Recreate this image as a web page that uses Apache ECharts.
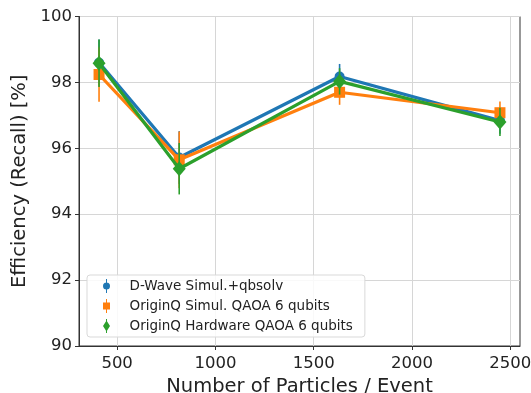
<!DOCTYPE html>
<html>
<head>
<meta charset="utf-8">
<script src="https://cdn.jsdelivr.net/npm/echarts@6/dist/echarts.min.js"></script>
<style>html,body{margin:0;padding:0;background:#fff}#c{width:531px;height:393px}</style>
</head>
<body>
<div id="c"></div>
<script>
// ---- data ----
const particles = [408, 816, 1632, 2448];
const dwave = [98.60, 95.72, 98.18, 96.84];
const dwaveErr = [0.70, 0.80, 0.38, 0.40];
const simul = [98.24, 95.65, 97.70, 97.08];
const simulErr = [0.83, 0.86, 0.38, 0.34];
const hardware = [98.58, 95.38, 98.03, 96.80];
const hardwareErr = [0.72, 0.78, 0.40, 0.43];
const xTicks = [500, 1000, 1500, 2000, 2500];
const names = ['D-Wave Simul.+qbsolv', 'OriginQ Simul. QAOA 6 qubits', 'OriginQ Hardware QAOA 6 qubits'];

const colors = ['#1f77b4', '#ff7f0e', '#2ca02c'];
const symbols = ['circle', 'rect', 'diamond'];
const symbolSizes = [10, 11, [13, 15]];
const legendIcons = [
  'path://M4.3,0 L5.7,0 L5.7,20 L4.3,20 Z M5,5 A5,5 0 1,1 5,15 A5,5 0 1,1 5,5 Z',
  'path://M4.3,0 L5.7,0 L5.7,20 L4.3,20 Z M0,5 L10,5 L10,15 L0,15 Z',
  'path://M4.3,0 L5.7,0 L5.7,20 L4.3,20 Z M5,2 L10,10 L5,18 L0,10 Z'
];
const values = [dwave, simul, hardware];
const errs = [dwaveErr, simulErr, hardwareErr];

const font = 'DejaVu Sans';
const series = [];
values.forEach((vals, i) => {
  series.push({
    type: 'custom',
    name: names[i],
    z: 2 + i * 2,
    silent: true,
    renderItem: function (params, api) {
      const p1 = api.coord([api.value(0), api.value(1)]);
      const p2 = api.coord([api.value(0), api.value(2)]);
      return {
        type: 'line',
        shape: { x1: p1[0], y1: p1[1], x2: p2[0], y2: p2[1] },
        style: { stroke: colors[i], lineWidth: 1.6 }
      };
    },
    data: particles.map((x, k) => [x, vals[k] - errs[i][k], vals[k] + errs[i][k]])
  });
  series.push({
    type: 'line',
    name: names[i],
    z: 3 + i * 2,
    data: particles.map((x, k) => [x, vals[k]]),
    symbol: symbols[i],
    symbolSize: symbolSizes[i],
    showAllSymbol: true,
    lineStyle: { color: colors[i], width: 3.2 },
    itemStyle: { color: colors[i] },
    animation: false
  });
});

const chart = echarts.init(document.getElementById('c'), null, { renderer: 'canvas' });
chart.setOption({
  animation: false,
  backgroundColor: '#fff',
  grid: { left: 79, right: 11, top: 16.5, bottom: 47, show: true, borderColor: '#333', borderWidth: 1, containLabel: false, outerBoundsMode: 'none' },
  legend: {
    orient: 'vertical',
    left: 87, top: 275,
    padding: [4, 12, 4, 16],
    itemGap: 6,
    itemWidth: 10, itemHeight: 14,
    backgroundColor: 'rgba(255,255,255,0.85)',
    borderColor: '#d9d9d9', borderWidth: 1, borderRadius: 3,
    textStyle: { fontFamily: font, fontSize: 13.5, color: '#222', padding: [0, 0, 0, 13] },
    data: names.map((n, i) => ({ name: n, icon: legendIcons[i], itemStyle: { color: colors[i] } }))
  },
  xAxis: {
    type: 'value', min: 306, max: 2550,
    name: 'Number of Particles / Event', nameLocation: 'middle', nameGap: 25,
    nameTextStyle: { fontFamily: font, fontSize: 19.5, color: '#222' },
    axisLine: { show: true, lineStyle: { color: '#333' } },
    axisTick: { show: true, inside: false, length: 4, customValues: xTicks, lineStyle: { color: '#333' } },
    axisLabel: { customValues: xTicks, formatter: v => String(v), fontFamily: font, fontSize: 16.5, color: '#222', margin: 9 },
    splitLine: { show: true, customValues: xTicks, lineStyle: { color: '#d6d6d6', width: 1 } }
  },
  yAxis: {
    type: 'value', min: 90, max: 100, interval: 2,
    name: 'Efficiency (Recall) [%]', nameLocation: 'middle', nameGap: 37,
    nameTextStyle: { fontFamily: font, fontSize: 19.5, color: '#222' },
    axisLine: { show: true, lineStyle: { color: '#333' } },
    axisTick: { show: true, inside: false, length: 4, lineStyle: { color: '#333' } },
    axisLabel: { fontFamily: font, fontSize: 16.5, color: '#222', margin: 7 },
    splitLine: { show: true, lineStyle: { color: '#d6d6d6', width: 1 } }
  },
  series: series
});
</script>
</body>
</html>
